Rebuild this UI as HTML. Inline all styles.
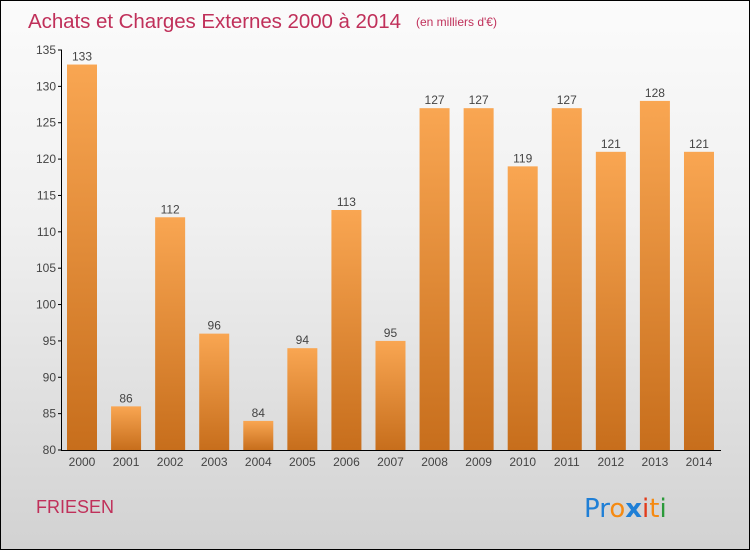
<!DOCTYPE html>
<html><head><meta charset="utf-8"><style>
body{margin:0;width:750px;height:550px;overflow:hidden;font-family:"Liberation Sans",sans-serif}
#wrap{position:absolute;left:0;top:0;width:748px;height:548px;border:1px solid #000;background:linear-gradient(#fbfbfb,#f0f0f0 40%,#d2d2d2)}
</style></head><body>
<div id="wrap">
<svg width="748" height="548">
<defs><linearGradient id="bg" x1="0" y1="0" x2="0" y2="1"><stop offset="0" stop-color="#f9a652"/><stop offset="1" stop-color="#c76e1c"/></linearGradient></defs>
<text x="27" y="27" font-size="20.5" fill="#c0305a" textLength="373">Achats et Charges Externes 2000 à 2014</text>
<text x="415" y="25" font-size="12" fill="#c0305a">(en milliers d'€)</text>
<g id="plot"></g>
<text x="35" y="512" font-size="18" fill="#c0305a">FRIESEN</text>
<g font-size="26" font-family="DejaVu Sans,sans-serif">
<text x="583" y="516"><tspan fill="#1f7fd6">Pr</tspan><tspan fill="#f58a12">o</tspan><tspan fill="#1f7fd6" font-weight="bold">x</tspan><tspan fill="#e23b1a">i</tspan><tspan fill="#f58a12">t</tspan><tspan fill="#2a9a3a">i</tspan></text>
</g>
</svg></div>
<script>
const years=["2000","2001","2002","2003","2004","2005","2006","2007","2008","2009","2010","2011","2012","2013","2014"];
const values=[133,86,112,96,84,94,113,95,127,127,119,127,121,128,121];
const ticks=[80,85,90,95,100,105,110,115,120,125,130,135];
const NS="http://www.w3.org/2000/svg";
const g=document.getElementById('plot');
const y0=449,y1=49,vmin=80,vmax=135;
const yS=v=>y0-(v-vmin)/(vmax-vmin)*(y0-y1);
const xC=i=>81+i*44.07;
function el(t,a,txt){const e=document.createElementNS(NS,t);for(const k in a)e.setAttribute(k,a[k]);if(txt!==undefined)e.textContent=txt;g.appendChild(e);return e;}
values.forEach((v,i)=>{
 const r=el('rect',{x:xC(i)-15,y:yS(v),width:30,height:y0-yS(v),fill:'url(#bg)'});
 
 
 const l=el('text',{x:xC(i),y:yS(v)-4,'font-size':12,fill:'#444','text-anchor':'middle'},v);
 
 
 const x=el('text',{x:xC(i),y:y0+16,'font-size':12,fill:'#444','text-anchor':'middle'},years[i]);
 
 
});
ticks.forEach(t=>{
 const tl=el('text',{x:55,y:yS(t)+4,'font-size':12,fill:'#444','text-anchor':'end'},t);
 
 
 el('line',{x1:57,x2:61,y1:yS(t),y2:yS(t),stroke:'#000'});
});
const ya=el('line',{x1:60.5,x2:60.5,y1:y1,y2:y0,stroke:'#000'});


const xa=el('line',{x1:60,x2:720,y1:y0+0.5,y2:y0+0.5,stroke:'#000'});


</script>
</body></html>
